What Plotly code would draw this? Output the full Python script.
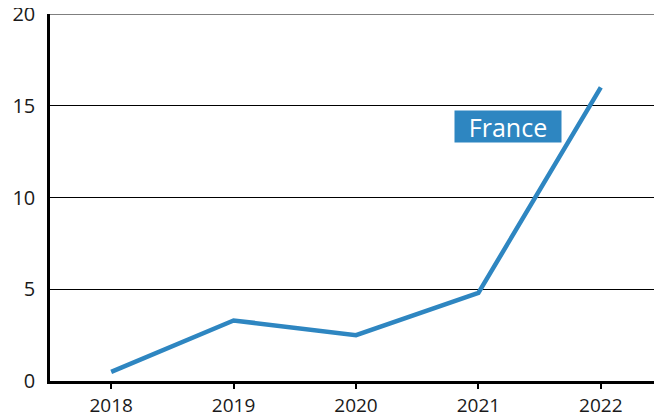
import plotly.graph_objects as go

years = [2018, 2019, 2020, 2021, 2022]
france = [0.5, 3.3, 2.5, 4.8, 16.0]
y_ticks = [0, 5, 10, 15, 20]
series_name = "France"
label_pos = (2021.238, 13.87)

color = "#2e86c1"

fig = go.Figure()
fig.add_trace(go.Scatter(x=years, y=france, mode="lines", name=series_name,
                         line=dict(color=color, width=4.5), showlegend=False))

fig.add_annotation(x=label_pos[0], y=label_pos[1], text=series_name, showarrow=False,
                   font=dict(family="Open Sans", size=25, color="white"),
                   bgcolor=color, borderpad=1, width=104, height=29,
                   xref="x", yref="y")

# top gridline (plotly skips gridlines lying on the plot edge)
fig.add_shape(type="line", xref="paper", yref="y", x0=0, x1=1,
              y0=y_ticks[-1], y1=y_ticks[-1], line=dict(color="black", width=1),
              layer="below")

fig.update_layout(
    width=654, height=405,
    margin=dict(l=42, r=0, t=6, b=32),
    plot_bgcolor="white", paper_bgcolor="white",
    font=dict(family="Open Sans", size=20, color="#1a1a1a"),
    xaxis=dict(range=[2017.5, 2022.5], tickvals=years, ticktext=[str(y) for y in years],
               showgrid=False, zeroline=False, showline=True, linecolor="black", linewidth=3,
               ticks="outside", ticklen=5, tickwidth=2, tickcolor="black", automargin=False,
               ticklabeloverflow="allow", tickfont=dict(size=19)),
    yaxis=dict(range=[0, 20], tickvals=y_ticks, showgrid=True, gridcolor="black", gridwidth=1,
               zeroline=False, showline=True, linecolor="black", linewidth=2.5,
               ticks="", ticklabelstandoff=8, automargin=False, ticklabeloverflow="allow"),
)

fig.write_html("out.html")
